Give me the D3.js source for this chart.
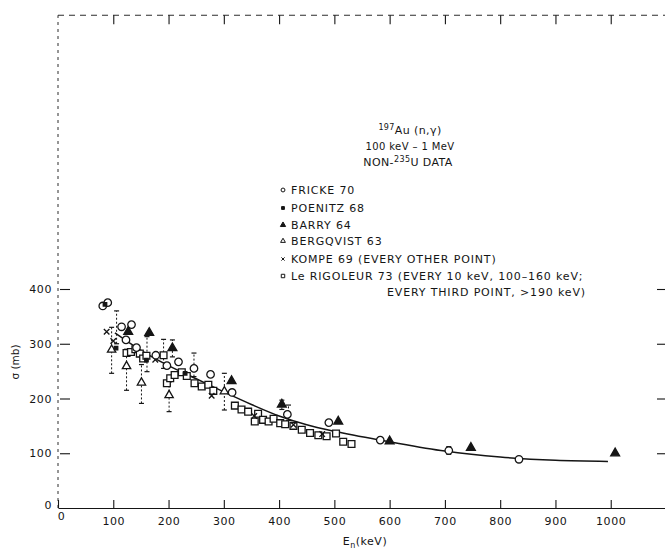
<!DOCTYPE html>
<html><head><meta charset="utf-8">
<script src="https://cdn.jsdelivr.net/npm/d3@7/dist/d3.min.js"></script>
<style>body{margin:0;background:#fff}svg{display:block}</style>
</head><body>
<svg id="chart" width="665" height="549"></svg>
<script>
// ---------- data (keV, mb) ----------
const xTicks = [0,100,200,300,400,500,600,700,800,900,1000];
const yTicks = [0,100,200,300,400];
const curveFit = [[103,320],[120,308],[150,288],[200,260],[250,236],[300,212],[350,189],[400,168],[450,152],[500,140],[600,121],[700,104],[800,93],[900,87],[995,85]];
const fricke = [[81,369],[90,375],[115,331],[133,335],[123,307],[142,293],[177,279],[197,260],[218,267],[246,255],[276,244],[315,211],[415,171],[490,156],[583,124],[707,105],[834,89]];
const poenitz = [[85,372],[105,292],[160,270],[230,246]];
const barry = [[127,322],[165,320],[207,292],[314,232],[405,189],[507,158],[600,122],[747,110],[1008,100]];
const bergqvist = [[97,289],[124,259],[151,229],[201,206],[301,213]];
const kompe = [[88,322],[100,305],[176,271],[278,205],[355,168],[426,152],[478,135]];
const leRigoleur = [[124,283],[132,285],[140,290],[148,282],[154,273],[160,278],[191,279],[197,228],[203,237],[211,243],[224,248],[233,241],[247,228],[260,222],[272,225],[281,214],[320,187],[332,180],[344,176],[356,158],[362,172],[371,161],[381,158],[390,163],[402,155],[411,153],[426,150],[441,143],[456,137],[471,133],[486,131],[503,136],[516,121],[531,117]];
// error bars: [keV, low, high]
const errorBars = [[97,246,330],[106,300,360],[124,215,290],[151,191,262],[161,249,313],[191,255,308],[201,176,230],[207,276,307],[246,240,283],[301,179,246],[405,180,197],[417,160,188],[707,98,112]];
const legendLabels = ["FRICKE 70","POENITZ 68","BARRY 64","BERGQVIST 63","KOMPE 69 (EVERY OTHER POINT)","Le RIGOLEUR 73 (EVERY 10 keV, 100\u2013160 keV;"];
const legendCont = "EVERY THIRD POINT, >190 keV)";

// ---------- scales ----------
const svg = d3.select("#chart");
const ink = "#151515";
const font = "DejaVu Sans, Liberation Sans, sans-serif";
const x = d3.scaleLinear().domain([0,1100]).range([58,666]);
const y = d3.scaleLinear().domain([0,900]).range([508,15.25]);

// ---------- frame ----------
svg.append("line").attr("x1",x(0)).attr("x2",x(0)).attr("y1",y(0)).attr("y2",y(900))
  .attr("stroke",ink).attr("stroke-width",0.9).attr("stroke-dasharray","3,4");
svg.append("line").attr("x1",x(0)).attr("x2",x(1100)).attr("y1",y(900)).attr("y2",y(900))
  .attr("stroke",ink).attr("stroke-width",0.9).attr("stroke-dasharray","6,5");

// bottom axis (ticks inward)
const gx = svg.append("g").attr("transform",`translate(0,${y(0)})`)
  .call(d3.axisBottom(x).tickValues(xTicks).tickSize(-8).tickPadding(9).tickSizeOuter(0)
    .tickFormat(d3.format("d")));
gx.select(".domain").attr("stroke",ink).attr("stroke-width",1.1);
gx.selectAll(".tick line").attr("stroke",ink).attr("stroke-width",1.1);
gx.selectAll("text").attr("font-family",font).attr("font-size",11).attr("fill",ink).attr("letter-spacing",0.6);
gx.selectAll(".tick").filter(d => d===0).select("text").attr("y",4).attr("x",3);

// top ticks
const gt = svg.append("g").attr("transform",`translate(0,${y(900)})`)
  .call(d3.axisTop(x).tickValues(xTicks.slice(1)).tickSize(-9).tickSizeOuter(0).tickFormat(""));
gt.select(".domain").remove();
gt.selectAll(".tick line").attr("stroke",ink).attr("stroke-width",1.1);

// left axis
const gy = svg.append("g").attr("transform",`translate(${x(0)},0)`)
  .call(d3.axisLeft(y).tickValues(yTicks).tickSize(-10).tickPadding(6).tickSizeOuter(0)
    .tickFormat(d3.format("d")));
gy.select(".domain").remove();
gy.selectAll(".tick line").attr("stroke",ink).attr("stroke-width",1.1)
  .attr("transform","translate(2,0)");
gy.selectAll(".tick").filter(d => d===0).select("line").remove();
gy.selectAll("text").attr("font-family",font).attr("font-size",11).attr("fill",ink).attr("letter-spacing",0.6);
gy.selectAll(".tick").filter(d => d===0).select("text").attr("dy","0.05em");

// right ticks
const gr = svg.append("g").attr("transform",`translate(${x(1100)},0)`)
  .call(d3.axisRight(y).tickValues(yTicks.slice(1)).tickSize(-9).tickSizeOuter(0).tickFormat(""));
gr.select(".domain").remove();
gr.selectAll(".tick line").attr("stroke",ink).attr("stroke-width",1.1);

// axis titles
const xl = svg.append("text").attr("x",365).attr("y",545).attr("text-anchor","middle")
  .attr("font-family",font).attr("font-size",11).attr("fill",ink).attr("letter-spacing",0.5);
xl.append("tspan").text("E");
xl.append("tspan").attr("font-size",8).attr("dy",3).text("n");
xl.append("tspan").attr("dy",-3).text("(keV)");
svg.append("text").attr("transform","translate(19,362) rotate(-90)").attr("text-anchor","middle")
  .attr("font-family",font).attr("font-size",10.5).attr("fill",ink).text("\u03c3 (mb)");

// ---------- curve ----------
svg.append("path").datum(curveFit)
  .attr("d", d3.line().x(d=>x(d[0])).y(d=>y(d[1])).curve(d3.curveMonotoneX))
  .attr("fill","none").attr("stroke",ink).attr("stroke-width",1.5);

// ---------- error bars ----------
const eb = svg.append("g").selectAll("g").data(errorBars).join("g");
eb.append("line").attr("x1",d=>x(d[0])).attr("x2",d=>x(d[0])).attr("y1",d=>y(d[1])).attr("y2",d=>y(d[2]))
  .attr("stroke",ink).attr("stroke-width",1).attr("stroke-dasharray","2,2");
eb.append("line").attr("x1",d=>x(d[0])-2.5).attr("x2",d=>x(d[0])+2.5).attr("y1",d=>y(d[2])).attr("y2",d=>y(d[2]))
  .attr("stroke",ink).attr("stroke-width",1.2);
eb.append("line").attr("x1",d=>x(d[0])-2.5).attr("x2",d=>x(d[0])+2.5).attr("y1",d=>y(d[1])).attr("y2",d=>y(d[1]))
  .attr("stroke",ink).attr("stroke-width",1.2);

// ---------- markers ----------
const series = [
  {data: leRigoleur, type: d3.symbolSquare, size: 46, fill: "#fff", legendSize: 12},
  {data: bergqvist, type: d3.symbolTriangle, size: 30, fill: "#fff", legendSize: 10},
  {data: kompe, type: d3.symbolTimes, size: 22, fill: "none", legendSize: 8},
  {data: fricke, type: d3.symbolCircle, size: 44, fill: "#fff", legendSize: 12},
  {data: barry, type: d3.symbolTriangle, size: 34, fill: ink, legendSize: 12},
  {data: poenitz, type: d3.symbolSquare, size: 12, fill: ink, legendSize: 8}
];
series.forEach(s => {
  svg.append("g").selectAll("path").data(s.data).join("path")
    .attr("transform", d => `translate(${x(d[0])},${y(d[1])})`)
    .attr("d", d3.symbol().type(s.type).size(s.size))
    .attr("fill", s.fill).attr("stroke", ink).attr("stroke-width", 1.3);
});

// ---------- title ----------
const tg = svg.append("g").attr("font-family",font).attr("font-size",11).attr("fill",ink)
  .attr("text-anchor","middle").attr("letter-spacing",0.4);
const t1 = tg.append("text").attr("x",410).attr("y",134);
t1.append("tspan").attr("font-size",8).attr("dy",-4).text("197");
t1.append("tspan").attr("dy",4).text("Au (n,\u03b3)");
tg.append("text").attr("x",410).attr("y",150).attr("font-size",10).text("100 keV \u2013 1 MeV");
const t3 = tg.append("text").attr("x",408).attr("y",166);
t3.append("tspan").text("NON-");
t3.append("tspan").attr("font-size",8).attr("dy",-4).text("235");
t3.append("tspan").attr("dy",4).text("U DATA");

// ---------- legend ----------
const legendOrder = [fricke, poenitz, barry, bergqvist, kompe, leRigoleur];
const legendY = [190,208,225,241,259,276];
const lg = svg.append("g").attr("font-family",font).attr("font-size",11).attr("fill",ink)
  .attr("letter-spacing",0.85);
legendLabels.forEach((lab,i) => {
  const s = series.find(ss => ss.data === legendOrder[i]);
  lg.append("path").attr("transform",`translate(283,${legendY[i]})`)
    .attr("d", d3.symbol().type(s.type).size(s.legendSize))
    .attr("fill", s.fill).attr("stroke", ink).attr("stroke-width", 1);
  lg.append("text").attr("x",291).attr("y",legendY[i]).attr("dy","0.36em").text(lab);
});
lg.append("text").attr("x",387).attr("y",292).attr("dy","0.36em").text(legendCont);
</script>
</body></html>
